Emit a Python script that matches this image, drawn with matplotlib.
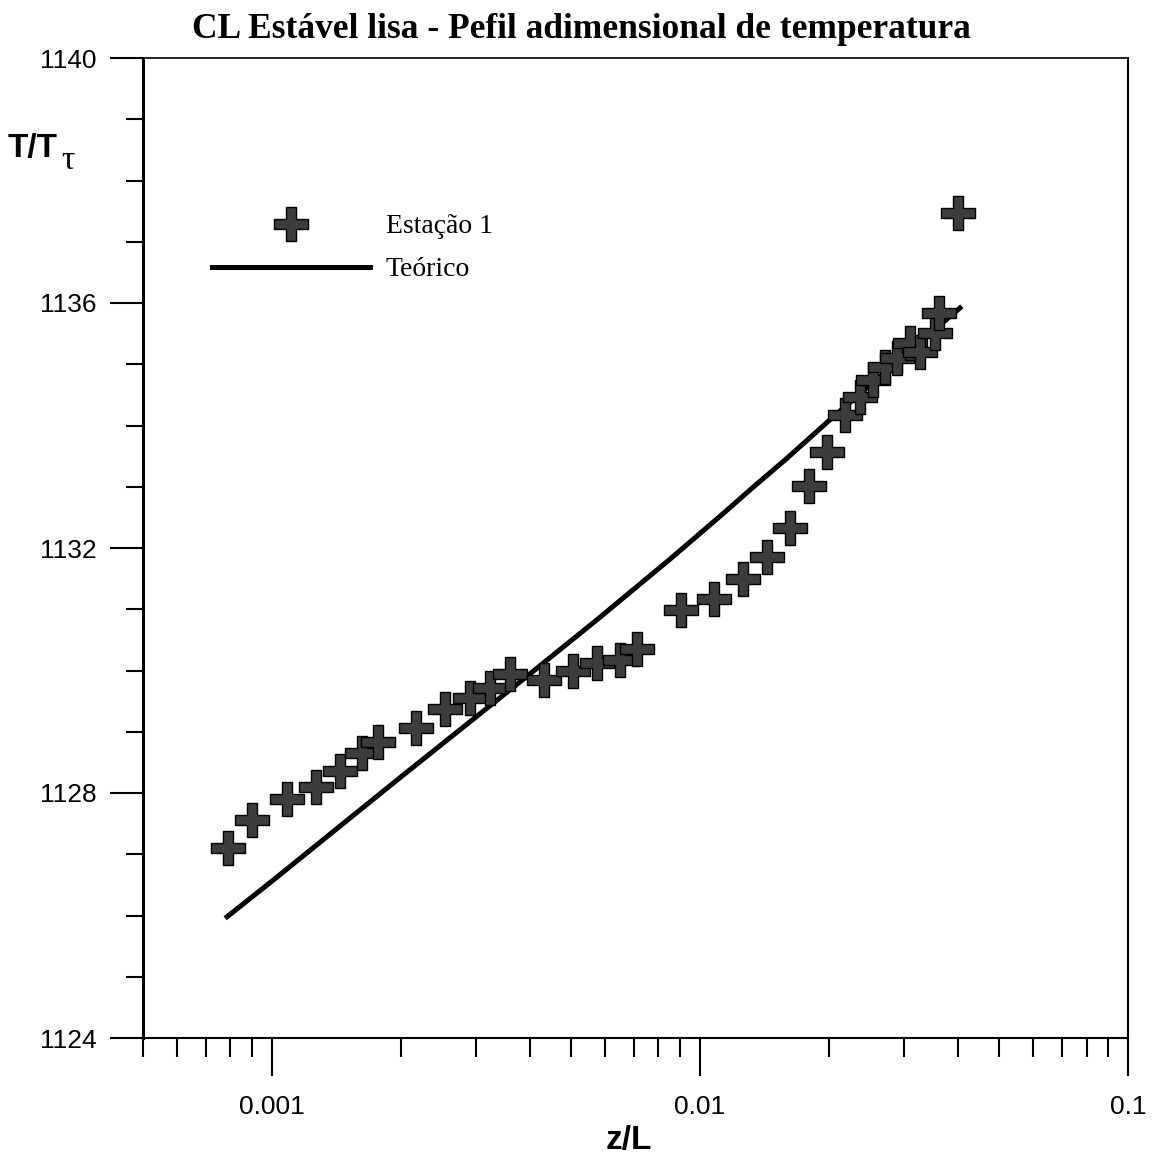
import numpy as np
import matplotlib
matplotlib.use("Agg")
import matplotlib.pyplot as plt
from matplotlib.path import Path
from matplotlib.ticker import LogLocator, FixedLocator, NullFormatter, MultipleLocator

# Estação 1 - perfil medido (z/L, T/T*)
zl_est1 = [0.00079, 0.000899, 0.001085, 0.001268, 0.001443, 0.001624, 0.00177,
           0.00217, 0.00254, 0.0029, 0.00323, 0.0036, 0.00432, 0.00505,
           0.00575, 0.0065, 0.00713, 0.00903, 0.0108, 0.0126, 0.01435,
           0.01624, 0.018, 0.0198, 0.02185, 0.02366, 0.0254, 0.02707,
           0.0289, 0.031, 0.0327, 0.0354, 0.0362, 0.0401]
tt_est1 = [1127.10, 1127.56, 1127.90, 1128.10, 1128.36, 1128.65, 1128.83,
           1129.06, 1129.37, 1129.55, 1129.71, 1129.94, 1129.84, 1129.99,
           1130.12, 1130.17, 1130.35, 1130.99, 1131.17, 1131.49, 1131.85,
           1132.33, 1133.01, 1133.57, 1134.17, 1134.47, 1134.74, 1134.96,
           1135.10, 1135.35, 1135.20, 1135.51, 1135.84, 1137.47]

# curva teorica
zl_teo = [0.000786, 0.001, 0.002, 0.004, 0.00575, 0.00852, 0.01115,
          0.0133, 0.016, 0.0201, 0.0228, 0.0327, 0.0405]
tt_teo = [1125.98, 1126.56, 1128.26, 1129.94, 1130.83, 1131.82, 1132.52,
          1132.99, 1133.47, 1134.09, 1134.42, 1135.36, 1135.92]

xtick_vals = [0.001, 0.01, 0.1]
xtick_lbls = ['0.001', '0.01', '0.1']
ytick_vals = [1124, 1128, 1132, 1136, 1140]

# marcador em cruz "grossa"
w = 0.28
cruz = Path([(-w, 1), (w, 1), (w, w), (1, w), (1, -w), (w, -w), (w, -1),
             (-w, -1), (-w, -w), (-1, -w), (-1, w), (-w, w), (-w, 1)],
            closed=True)

fig = plt.figure(figsize=(11.56, 11.60), dpi=100)
ax = fig.add_axes([143/1156, 1 - 1038/1160, 985/1156, 980/1160])

ax.plot(zl_est1, tt_est1, linestyle='none', marker=cruz, markersize=24,
        markerfacecolor='#3c3c3c', markeredgecolor='#000000',
        markeredgewidth=1.0, label='Estação 1', zorder=3)
ax.plot(zl_teo, tt_teo, color='black', lw=3.6, label='Teórico', zorder=2,
        solid_joinstyle='round')

ax.set_xscale('log')
ax.set_xlim(0.0005, 0.1)
ax.set_ylim(1124, 1140)

ax.xaxis.set_major_locator(FixedLocator(xtick_vals))
ax.set_xticklabels(xtick_lbls)
ax.xaxis.set_minor_locator(LogLocator(base=10, subs=np.arange(2, 10)))
ax.xaxis.set_minor_formatter(NullFormatter())
ax.set_yticks(ytick_vals)
ax.yaxis.set_minor_locator(MultipleLocator(1))

ax.tick_params(which='both', direction='out', top=False, right=False,
               width=1.5, color='black')
ax.tick_params(axis='x', which='major', length=27, pad=14)
ax.tick_params(axis='x', which='minor', length=14)
ax.tick_params(axis='y', which='major', length=24, pad=9.5)
ax.tick_params(axis='y', which='minor', length=12)
for lbl in ax.get_xticklabels() + ax.get_yticklabels():
    lbl.set_fontfamily('Liberation Sans')
    lbl.set_fontsize(19)

ax.spines['left'].set_linewidth(2.2)
ax.spines['bottom'].set_linewidth(1.5)
ax.spines['top'].set_linewidth(1.2)
ax.spines['right'].set_linewidth(1.5)

ax.legend(loc='upper left', bbox_to_anchor=(0.070, 0.841), frameon=False,
          borderpad=0, borderaxespad=0, handlelength=5.7, handletextpad=0.55,
          labelspacing=0.64, numpoints=1,
          prop={'family': 'Liberation Serif', 'size': 20})

fig.text(0.5026, 1 - 30/1160, 'CL Estável lisa - Pefil adimensional de temperatura',
         ha='center', va='center', family='Liberation Serif',
         fontweight='bold', fontsize=25.5)

fig.text(8/1156, 1 - 149/1160, 'T/T', ha='left', va='center',
         family='Liberation Sans', fontweight='bold', fontsize=24)
fig.text(61/1156, 1 - 161/1160, 'τ', ha='left', va='center',
         family='Liberation Serif', fontsize=24)
fig.text(629/1156, 1 - 1141/1160, 'z/L', ha='center', va='center',
         family='Liberation Sans', fontweight='bold', fontsize=24)

fig.savefig('out.png', dpi=100, facecolor='white')
